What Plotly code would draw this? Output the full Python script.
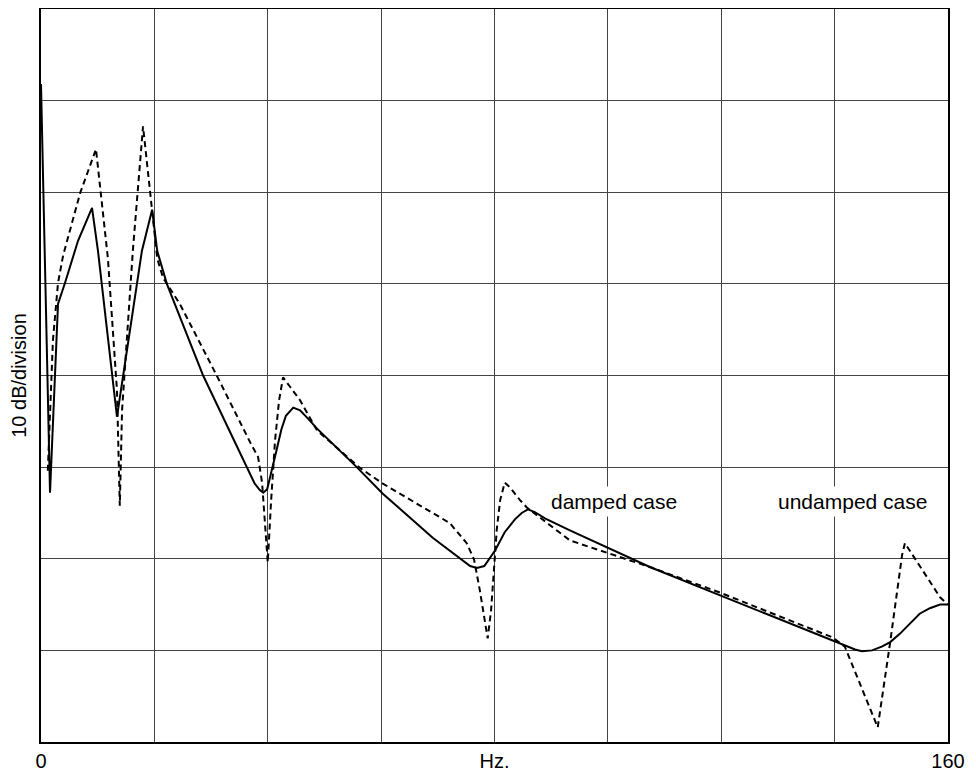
import plotly.graph_objects as go

# Damped case (solid): frequency in Hz, level in dB (10 dB per division)
damped_f = [0.0, 1.59, 3.0, 4.23, 6.53, 9.0, 10.05, 13.4, 17.8, 19.6, 20.5, 22.2, 28.6,
            37.7, 38.6, 39.2, 39.9, 40.6, 41.5, 42.4, 43.2, 44.5, 45.7, 47.1, 48.7, 55.7,
            60.3, 69.1, 73.9, 75.7, 76.9, 78.2, 79.2, 80.1, 81.8, 83.6, 84.8, 85.9, 87.1,
            88.9, 93.3, 107.4, 119.8, 139.7, 141.8, 143.6, 144.8, 146.6, 148.3, 149.8,
            151.5, 153.3, 155.0, 156.8, 158.6, 160.0]
damped_db = [71.8, 27.2, 47.8, 50.1, 54.7, 58.3, 53.6, 35.5, 53.6, 58.1, 53.6, 50.0, 40.0,
             28.2, 27.5, 27.2, 27.6, 29.3, 31.7, 34.1, 35.6, 36.5, 36.2, 35.3, 34.2, 30.0,
             27.1, 22.3, 20.1, 19.2, 19.0, 19.2, 20.1, 20.9, 22.9, 24.3, 25.0, 25.4, 25.1,
             24.4, 23.1, 19.1, 16.0, 11.1, 10.5, 10.1, 9.9, 10.0, 10.4, 10.9,
             11.8, 12.9, 14.0, 14.6, 15.0, 15.0]

# Undamped case (dashed)
undamped_f = [1.2, 2.1, 3.0, 3.9, 6.9, 9.7, 11.8, 13.4, 13.9, 14.3, 16.2, 18.0, 20.5, 21.5,
              24.5, 31.0, 36.9, 38.3, 39.0, 39.5, 40.0, 40.6, 41.3, 42.0, 42.7, 43.9, 45.7,
              48.7, 56.3, 60.3, 66.3, 72.1, 75.1, 76.4, 77.4, 78.3, 78.8, 79.4, 79.9, 80.4,
              81.0, 81.8, 82.7, 84.5, 85.7, 93.3, 107.4, 119.8, 139.7, 141.8, 147.6, 149.8,
              151.9, 152.4, 158.6, 160.0]
undamped_db = [29.6, 43.8, 50.1, 53.1, 59.9, 64.7, 52.8, 38.4, 25.8, 36.2, 53.6, 67.2, 52.8,
               50.7, 47.8, 40.0, 32.7, 31.1, 28.3, 24.0, 19.6, 26.4, 33.0, 37.3, 39.8, 38.8,
               37.3, 34.0, 29.9, 28.2, 26.0, 23.9, 21.7, 19.9, 16.6, 13.3, 11.3, 14.4, 18.8,
               23.2, 26.4, 28.3, 27.8, 26.4, 25.6, 22.0, 19.1, 16.3, 11.4, 10.4, 1.6, 10.9,
               20.4, 21.7, 15.8, 15.0]

x_ticks = [0, 20, 40, 60, 80, 100, 120, 140, 160]
x_tick_labels = ["0", "", "", "", "Hz.", "", "", "", "160"]
y_ticks = [0, 10, 20, 30, 40, 50, 60, 70, 80]

FONT = "Liberation Sans, Arial, Helvetica, sans-serif"

fig = go.Figure()
fig.add_trace(go.Scatter(x=undamped_f, y=undamped_db, mode="lines",
                         line=dict(color="black", width=2, dash="6px,4px"),
                         showlegend=False, hoverinfo="skip"))
fig.add_trace(go.Scatter(x=damped_f, y=damped_db, mode="lines",
                         line=dict(color="black", width=2),
                         showlegend=False, hoverinfo="skip"))

fig.add_annotation(x=101.0, y=26.3, text="damped case", showarrow=False,
                   bgcolor="white", font=dict(family=FONT, size=21, color="black"),
                   borderpad=3)
fig.add_annotation(x=143.1, y=26.3, text="undamped case", showarrow=False,
                   bgcolor="white", font=dict(family=FONT, size=21, color="black"),
                   borderpad=3)

fig.update_layout(
    width=968, height=764,
    margin=dict(l=33, r=28, t=1, b=30, autoexpand=False),
    paper_bgcolor="white", plot_bgcolor="white",
    font=dict(family=FONT, size=20, color="black"),
    xaxis=dict(range=[0, 160], tickvals=x_ticks, ticktext=x_tick_labels,
               showgrid=True, gridcolor="#444", gridwidth=1, zeroline=False,
               showline=True, linecolor="black", linewidth=1.5, mirror=True,
               ticks="", tickfont=dict(size=20), automargin=False),
    yaxis=dict(range=[0, 80], tickvals=y_ticks, showticklabels=False,
               showgrid=True, gridcolor="#444", gridwidth=1, zeroline=False,
               showline=True, linecolor="black", linewidth=1.5, mirror=True,
               ticks="", automargin=False,
               title=dict(text="10 dB/division", font=dict(size=20), standoff=10)),
)

fig.write_html("out.html")
